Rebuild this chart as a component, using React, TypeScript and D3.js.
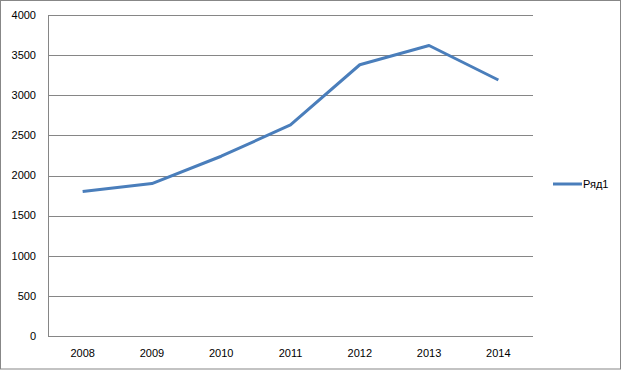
import { useEffect, useRef } from 'react';
import * as d3 from 'd3';

const years = ['2008', '2009', '2010', '2011', '2012', '2013', '2014'];
const series1 = [1800, 1900, 2240, 2630, 3380, 3620, 3190];
const yTicks = [0, 500, 1000, 1500, 2000, 2500, 3000, 3500, 4000];
const seriesName = 'Ряд1';

export default function App() {
  const svgRef = useRef<SVGSVGElement>(null);

  useEffect(() => {
    document.body.style.margin = '0';
    if (!svgRef.current) return;
    const svg = d3.select(svgRef.current);
    svg.selectAll('*').remove();

    const width = 624;
    const height = 370;
    const plot = { left: 48, right: 533, top: 15, bottom: 336 };
    const font = '"Liberation Sans", Arial, sans-serif';
    const lineColor = '#4a7ebb';

    // outer chart border
    svg.append('rect')
      .attr('x', 0.5).attr('y', 0.5)
      .attr('width', width - 4).attr('height', height - 1.5)
      .attr('fill', '#fff')
      .attr('stroke', '#878787');

    const x = d3.scaleBand().domain(years).range([plot.left, plot.right]);
    const y = d3.scaleLinear().domain([0, 4000]).range([plot.bottom, plot.top]);

    // gridlines
    svg.append('g')
      .selectAll('line')
      .data(yTicks)
      .enter()
      .append('line')
      .attr('x1', plot.left).attr('x2', plot.right)
      .attr('y1', d => Math.round(y(d)) + 0.5)
      .attr('y2', d => Math.round(y(d)) + 0.5)
      .attr('stroke', '#868686')
      .attr('stroke-width', 1);

    // y axis line
    svg.append('line')
      .attr('x1', plot.left + 0.5).attr('x2', plot.left + 0.5)
      .attr('y1', plot.top).attr('y2', plot.bottom + 1)
      .attr('stroke', '#868686');

    // y labels
    svg.append('g')
      .selectAll('text')
      .data(yTicks)
      .enter()
      .append('text')
      .attr('x', 36)
      .attr('y', d => y(d))
      .attr('dy', '0.35em')
      .attr('text-anchor', 'end')
      .attr('font-family', font)
      .attr('font-size', 11)
      .attr('fill', '#000')
      .text(d => d);

    // x labels
    svg.append('g')
      .selectAll('text')
      .data(years)
      .enter()
      .append('text')
      .attr('x', d => (x(d) || 0) + x.bandwidth() / 2)
      .attr('y', 353)
      .attr('dy', '0.35em')
      .attr('text-anchor', 'middle')
      .attr('font-family', font)
      .attr('font-size', 11)
      .attr('fill', '#000')
      .text(d => d);

    const line = d3.line<number>()
      .x((_, i) => (x(years[i]) || 0) + x.bandwidth() / 2)
      .y(d => y(d));

    svg.append('path')
      .datum(series1)
      .attr('d', line)
      .attr('fill', 'none')
      .attr('stroke', lineColor)
      .attr('stroke-width', 3)
      .attr('stroke-linejoin', 'round');

    // legend
    const lg = svg.append('g').attr('transform', 'translate(553,184)');
    lg.append('line')
      .attr('x1', 0).attr('x2', 29)
      .attr('y1', 0).attr('y2', 0)
      .attr('stroke', lineColor)
      .attr('stroke-width', 3);
    lg.append('text')
      .attr('x', 30)
      .attr('y', 0)
      .attr('dy', '0.35em')
      .attr('font-family', font)
      .attr('font-size', 11)
      .attr('fill', '#000')
      .text(seriesName);
  }, []);

  return (
    <svg
      ref={svgRef}
      width={624}
      height={370}
      style={{ display: 'block', position: 'absolute', left: 0, top: 0 }}
    />
  );
}
